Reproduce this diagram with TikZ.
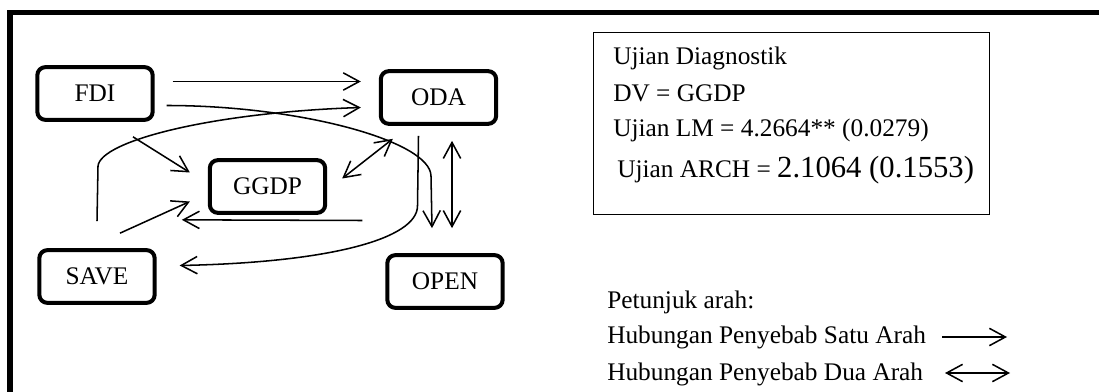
\documentclass[tikz,border=0pt]{standalone}
\usepackage{fontspec}
\setmainfont{Liberation Serif}
\usetikzlibrary{arrows.meta, positioning, calc}

\begin{document}
\begin{tikzpicture}[
    x=0.75pt, y=-0.75pt,
    var/.style={rectangle, draw, line width=3pt, rounded corners=6pt, minimum width=86.5pt, minimum height=39.5pt, font=\fontsize{19}{23}\selectfont},
    txt/.style={anchor=base west, inner sep=0pt, font=\fontsize{19}{23}\selectfont},
    arrow/.style={-{Straight Barb[length=12pt, width=13pt]}, line width=1.15pt},
    darrow/.style={{Straight Barb[length=12pt, width=13pt]}-{Straight Barb[length=12pt, width=13pt]}, line width=1.15pt},
]
\useasboundingbox (0,0) rectangle (1099,392);
\draw[line width=3.8pt] (10,392) -- (10,12.5) -- (1099,12.5);

% variables
\node[var] (fdi) at (95,93.5) {FDI};
\node[var] (oda) at (438.5,97.5) {ODA};
\node[var] (ggdp) at (267.5,186.5) {GGDP};
\node[var] (save) at (97,276.5) {SAVE};
\node[var] (open) at (445,281.5) {OPEN};

% causality
\draw[arrow] ($(fdi.east)+(18,-12)$) -- ($(oda.west)+(-18,-16)$);
\draw[arrow] ($(save.north)+(0,-27)$) -- ++(1,-55) .. controls +(2,-25) and +(-150,5) .. ($(oda.west)+(-18,10)$);
\draw[arrow] ($(fdi.east)+(12,12)$) .. controls +(133,0) and +(0,-35) .. ($(open.north)+(-14,-77)$) -- ($(open.north)+(-13,-25)$);
\draw[arrow] ($(oda.south)+(-20,10)$) -- ++(-1,70) .. controls +(0,33) and +(150,-3) .. ($(save.east)+(23,-11)$);
\draw[arrow] ($(fdi.south)+(38,15)$) -- ($(ggdp.west)+(-18,-14)$);
\draw[arrow] ($(save.north)+(23,-15)$) -- ($(ggdp.west)+(-18,15)$);
\draw[darrow] ($(ggdp.east)+(15,-8)$) -- ($(oda.south west)+(14,13)$);
\draw[arrow] ($(open.west)+(-23,-61)$) -- ($(ggdp.south west)+(-26,5)$);
\draw[darrow] ($(oda.south)+(13.5,15)$) -- ($(open.north)+(7,-25)$);

% diagnostic box
\node[draw, line width=0.8pt, minimum width=297pt, minimum height=136.5pt, anchor=north west] (diag) at (593,32) {};
\node[txt] (t1) at ($(diag.north west)+(20,33)$) {Ujian Diagnostik};
\node[txt] (t2) at ($(diag.north west)+(20,70)$) {DV = GGDP};
\node[txt] (t3) at ($(diag.north west)+(20,105)$) {Ujian LM = 4.2664** (0.0279)};
\node[txt] (t4) at ($(diag.north west)+(24,145)$) {Ujian ARCH = {\fontsize{23}{27}\selectfont 2.1064 (0.1553)}};

% legend
\node[txt] (pet) at (607,308) {Petunjuk arah:};
\node[txt] (satu) at (607,343) {Hubungan Penyebab Satu Arah};
\node[txt] (dua) at (607,380) {Hubungan Penyebab Dua Arah};
\coordinate (s1) at (942,337);
\coordinate (s2) at (1007,337);
\coordinate (d1) at (945,373);
\coordinate (d2) at (1010,373);
\draw[arrow] (s1) -- (s2);
\draw[darrow] (d1) -- (d2);
\end{tikzpicture}
\end{document}
